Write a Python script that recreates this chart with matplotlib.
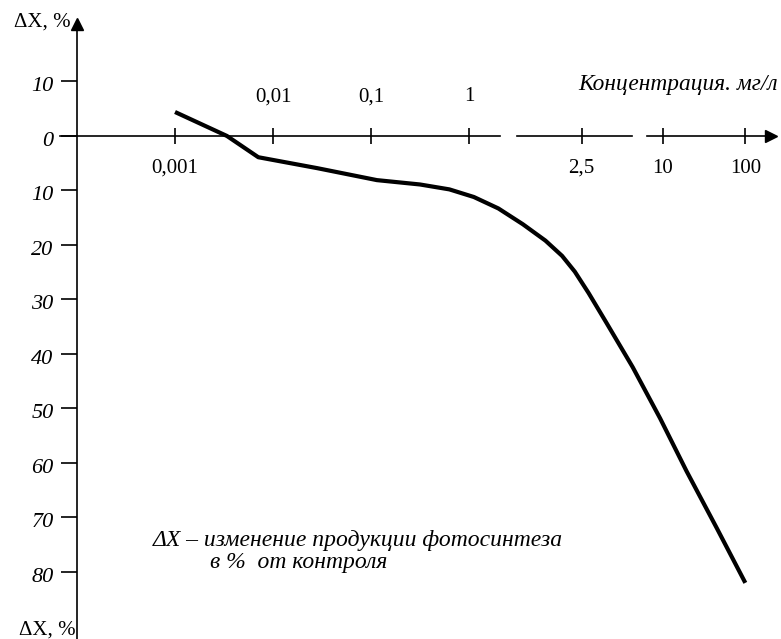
import matplotlib.pyplot as plt

plt.rcParams['font.family'] = ['Liberation Serif', 'DejaVu Serif']

# concentration axis is broken, so each tick gets a position along the line
conc_labels = ['0,001', '0,01', '0,1', '1', '2,5', '10', '100']
conc_pos = [1, 2, 3, 4, 5.15, 5.98, 6.82]
label_above = [False, True, True, True, False, False, False]

# change of photosynthesis, % of control (negative = decrease)
dx_ticks = [10, 0, -10, -20, -30, -40, -50, -60, -70, -80]
dx_tick_labels = ['10', '0', '10', '20', '30', '40', '50', '60', '70', '80']

# curve: x in axis positions, y in %
curve_x = [1.00, 1.53, 1.85, 2.45, 3.06, 3.50, 3.80, 4.05, 4.30, 4.55,
           4.78, 4.95, 5.08, 5.22, 5.40, 5.67, 5.95, 6.22, 6.53, 6.82]
curve_y = [4.4, 0.0, -3.9, -5.9, -8.1, -8.9, -9.8, -11.2, -13.3, -16.2,
           -19.2, -22.0, -24.9, -28.8, -34.2, -42.4, -51.8, -61.5, -72.0, -82.0]

# pieces of the horizontal axis between the breaks
axis_pieces = [(-0.17, 4.32), (4.49, 5.66), (5.82, 7.05)]

fig = plt.figure(figsize=(7.81, 6.39), dpi=100)
ax = fig.add_axes([0, 0, 1, 1])
ax.set_xlim(-0.786, 7.184)
ax.set_ylim(-92.3, 24.95)
ax.axis('off')

# ---- vertical axis
ax.plot([0, 0], [-92.3, 19.5], color='k', lw=1.2)
ax.plot(0, 20.6, marker='^', ms=9, color='k')
ax.hlines(dx_ticks, -0.16, 0, color='k', lw=1.2)
for y, lab in zip(dx_ticks, dx_tick_labels):
    ax.text(-0.24, y - 1.0, lab, ha='right', va='center',
            fontsize=16, fontstyle='italic')
ax.text(-0.07, 20.9, 'ΔX, %', ha='right', va='center', fontsize=15)
ax.text(-0.01, -90.6, 'ΔX, %', ha='right', va='center', fontsize=15)

# ---- horizontal (broken) axis
for a, b in axis_pieces:
    ax.plot([a, b], [0, 0], color='k', lw=1.2)
ax.plot(7.08, 0, marker='>', ms=9, color='k')
ax.vlines(conc_pos, -1.5, 1.5, color='k', lw=1.2)
for x, lab, up in zip(conc_pos, conc_labels, label_above):
    ax.text(x, 7.2 if up else -5.9, lab, ha='center', va='center', fontsize=15)
ax.text(7.15, 9.4, 'Концентрация. мг/л', ha='right', va='center',
        fontsize=16.8, fontstyle='italic')

# ---- curve
ax.plot(curve_x, curve_y, color='k', lw=3, solid_capstyle='butt',
        solid_joinstyle='round')

# ---- note
ax.text(0.77, -74.3, 'ΔX – изменение продукции фотосинтеза', ha='left',
        va='center', fontsize=17, fontstyle='italic')
ax.text(1.36, -78.2, 'в %  от контроля', ha='left', va='center',
        fontsize=17, fontstyle='italic')

fig.savefig('out.png', dpi=100)
